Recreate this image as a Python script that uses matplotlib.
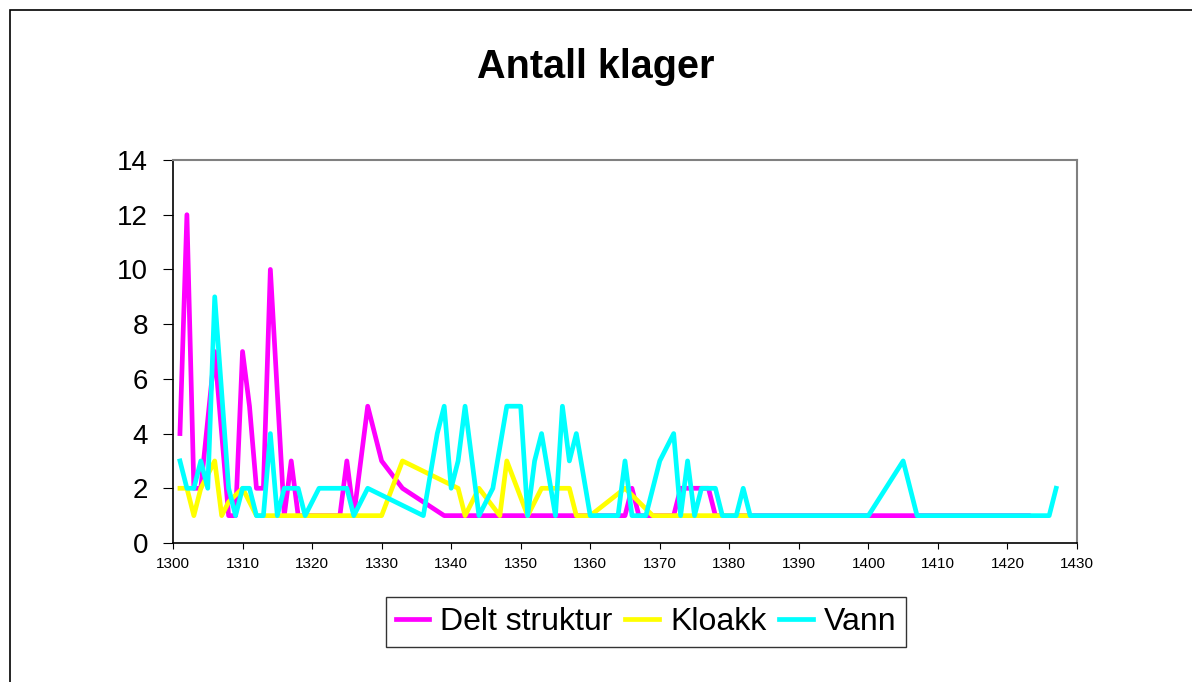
import matplotlib
matplotlib.use("Agg")
import matplotlib.pyplot as plt
from matplotlib.patches import Rectangle

plt.rcParams["font.family"] = ["Liberation Sans", "DejaVu Sans"]

# Delt struktur (magenta)
delt_years = [1301, 1302, 1303, 1304, 1306, 1308, 1309, 1310, 1311, 1312, 1313,
              1314, 1316, 1317, 1318, 1324, 1325, 1326, 1328, 1330, 1333, 1339,
              1365, 1366, 1367, 1372, 1373, 1377, 1378, 1400, 1407, 1423]
delt_vals = [4, 12, 2, 2, 7, 1, 1, 7, 5, 2, 2,
             10, 1, 3, 1, 1, 3, 1, 5, 3, 2, 1,
             1, 2, 1, 1, 2, 2, 1, 1, 1, 1]

# Kloakk (yellow)
kloakk_years = [1301, 1302, 1303, 1304, 1306, 1307, 1308, 1310, 1312, 1320,
                1330, 1333, 1341, 1342, 1344, 1347, 1348, 1351, 1353, 1357,
                1358, 1360, 1365, 1369, 1375, 1383]
kloakk_vals = [2, 2, 1, 2, 3, 1, 1.5, 2, 1, 1,
               1, 3, 2, 1, 2, 1, 3, 1, 2, 2,
               1, 1, 2, 1, 1, 1]

# Vann (cyan)
vann_years = [1301, 1302, 1303, 1304, 1305, 1306, 1308, 1309, 1310, 1311, 1312,
              1313, 1314, 1315, 1316, 1318, 1319, 1321, 1325, 1326, 1328, 1336,
              1338, 1339, 1340, 1341, 1342, 1344, 1346, 1348, 1350, 1351, 1352,
              1353, 1355, 1356, 1357, 1358, 1360, 1364, 1365, 1366, 1368, 1370,
              1372, 1373, 1374, 1375, 1376, 1378, 1379, 1381, 1382, 1383, 1400,
              1405, 1407, 1426, 1427]
vann_vals = [3, 2, 2, 3, 2, 9, 2, 1, 2, 2, 1,
             1, 4, 1, 2, 2, 1, 2, 2, 1, 2, 1,
             4, 5, 2, 3, 5, 1, 2, 5, 5, 1, 3,
             4, 1, 5, 3, 4, 1, 1, 3, 1, 1, 3,
             4, 1, 3, 1, 2, 2, 1, 1, 2, 1, 1,
             3, 1, 1, 2]

x_ticks = list(range(1300, 1431, 10))
y_ticks = list(range(0, 15, 2))

fig = plt.figure(figsize=(11.92, 6.82), dpi=100)
ax = fig.add_axes([173 / 1192, 1 - 543 / 682, 904 / 1192, 383 / 682])

lw = 3.4
ax.plot(delt_years, delt_vals, color="#ff00ff", lw=lw, label="Delt struktur")
ax.plot(kloakk_years, kloakk_vals, color="#ffff00", lw=lw, label="Kloakk")
ax.plot(vann_years, vann_vals, color="#00ffff", lw=lw, label="Vann")

ax.set_xlim(1300, 1430)
ax.set_ylim(0, 14)
ax.set_xticks(x_ticks)
ax.set_yticks(y_ticks)
ax.tick_params(axis="x", labelsize=11, length=4, pad=6, direction="out")
ax.tick_params(axis="y", labelsize=20, length=7, pad=11, direction="out")

for side in ("top", "right"):
    ax.spines[side].set_color("#808080")
    ax.spines[side].set_linewidth(1.5)
for side in ("left", "bottom"):
    ax.spines[side].set_color("black")
    ax.spines[side].set_linewidth(1.2)

fig.text(0.5, 1 - 67 / 682, "Antall klager", ha="center", va="center",
         fontsize=28.5, fontweight="bold")

leg = fig.legend(loc="center", bbox_to_anchor=(646 / 1192, 1 - 622 / 682),
                 ncol=3, fontsize=23, frameon=True, fancybox=False,
                 handlelength=1.05, handletextpad=0.35, columnspacing=0.4,
                 borderpad=0.3, borderaxespad=0)
leg.get_frame().set_edgecolor("black")
leg.get_frame().set_linewidth(1)

# outer chart-area border
fig.patches.append(Rectangle((10 / 1192, -0.1), 1.2, 1.1 - 10 / 682,
                             transform=fig.transFigure, fill=False,
                             edgecolor="black", lw=1.2))

fig.savefig("out.png", dpi=100)
